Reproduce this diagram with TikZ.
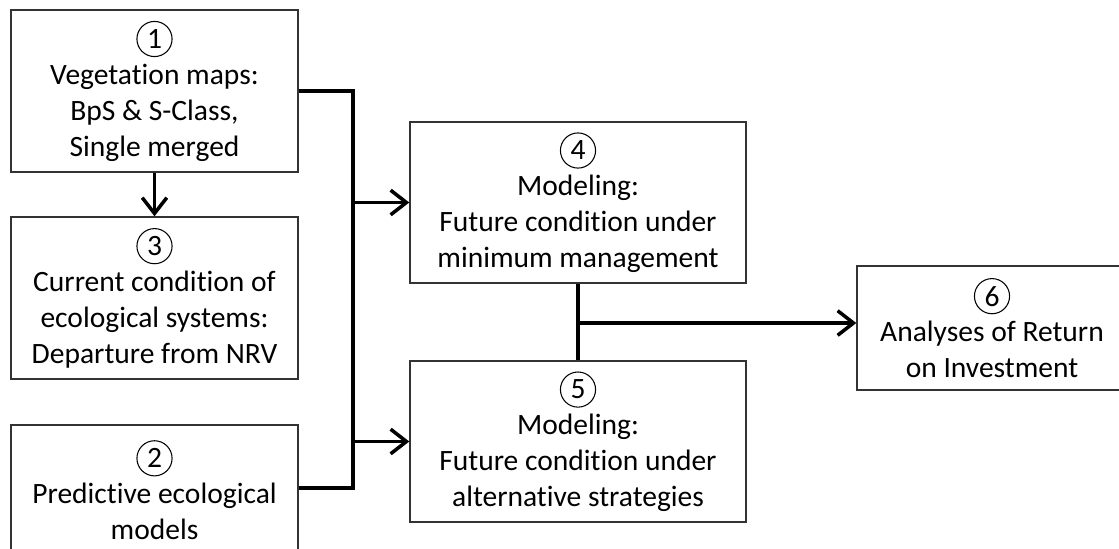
\documentclass[tikz,border=0pt]{standalone}
\usepackage{fontspec}
\setmainfont{Carlito}[Ligatures=NoCommon]
\usetikzlibrary{arrows.meta}
\usetikzlibrary{positioning}
\tikzset{basic/.style={draw=black!80,line width=0.8pt,fill=white,
                       align=center,font=\fontsize{16.8}{20.4}\selectfont}}
\tikzset{stage/.style={basic,minimum width=5.74cm,minimum height=3.24cm}}
\tikzset{model/.style={basic,minimum width=6.72cm,minimum height=3.22cm}}
\tikzset{link/.style={line width=2pt}}
\tikzset{flow/.style={link,-{Straight Barb[length=9pt,width=14pt]}}}
\newcommand{\stagenum}[1]{\tikz[baseline=(num.base)]\node[circle,draw=black,fill=none,
    line width=0.6pt,inner sep=0pt,minimum size=20pt](num){#1};}

\begin{document}
\begin{tikzpicture}

    \useasboundingbox (0,0) rectangle (22.38,-10.96);

    \node[stage] (maps) at (3.09,-1.82){\stagenum{1}\\Vegetation maps:\\BpS \& S-Class,\\Single merged};
    \node[stage] (current) at (3.09,-5.96){\stagenum{3}\\Current condition of\\ecological systems:\\Departure from NRV};
    \node[stage,minimum height=2.6cm] (predict) at (3.09,-9.8){\stagenum{2}\\Predictive ecological\\models};
    
    \node[model] (minmgmt) at (11.56,-4.05){\stagenum{4}\\Modeling:\\Future condition under\\minimum management};
    \node[model] (altstrat) at (11.56,-8.83){\stagenum{5}\\Modeling:\\Future condition under\\alternative strategies};
    
    \node[basic,minimum width=5.4cm,minimum height=2.48cm] (roi) at (19.84,-6.56){\stagenum{6}\\Analyses of Return\\on Investment};
    
    \coordinate (busbot) at (7.06,-9.76);
    \coordinate (join) at (11.56,-6.46);
    
    \draw[flow] (maps) -- (current);
    \draw[link] (maps.east) -| (busbot) -- (predict.east |- busbot);
    \draw[flow] (busbot |- minmgmt) -- (minmgmt);
    \draw[flow] (busbot |- altstrat) -- (altstrat);
    
    \draw[link] (minmgmt) -- (altstrat);
    \draw[flow] (join) -- (roi.west |- join);
    
\end{tikzpicture}
\end{document}
